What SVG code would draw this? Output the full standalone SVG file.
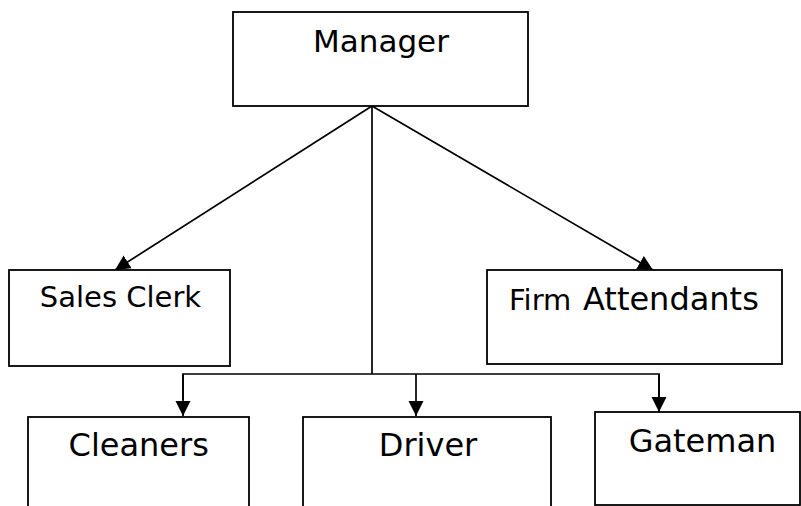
<svg xmlns="http://www.w3.org/2000/svg" width="801" height="506" viewBox="0 0 801 506">
<style>
.box{fill:#fff;stroke:#000;stroke-width:1.8}
.lbl{font-family:"DejaVu Sans",sans-serif;fill:#000;text-anchor:middle}
.ln{fill:none;stroke:#000;stroke-width:1.7}
</style>
<defs>
<marker id="arr" markerUnits="userSpaceOnUse" markerWidth="16" markerHeight="16" refX="15" refY="8" orient="auto">
<path d="M0,0.5 L15,8 L0,15.5 z" fill="#000"/>
</marker>
</defs>
<rect width="801" height="506" fill="#fff"/>
<g id="connectors">
<line class="ln" x1="372" y1="106" x2="115" y2="270" marker-end="url(#arr)"/>
<line class="ln" x1="372" y1="106" x2="653" y2="270" marker-end="url(#arr)"/>
<polyline class="ln" points="372,106 372,374"/>
<polyline class="ln" points="183,400 183,374 659,374 659,400"/>
<line class="ln" x1="183" y1="374" x2="183" y2="416" marker-end="url(#arr)"/>
<line class="ln" x1="416" y1="374" x2="416" y2="416" marker-end="url(#arr)"/>
<line class="ln" x1="659" y1="374" x2="659" y2="412" marker-end="url(#arr)"/>
</g>
<g id="manager">
<rect class="box" x="233" y="12" width="295" height="94"/>
<text class="lbl" x="381" y="52" font-size="31">Manager</text>
</g>
<g id="sales-clerk">
<rect class="box" x="9" y="270" width="221" height="96"/>
<text class="lbl" x="120.5" y="307" font-size="29">Sales Clerk</text>
</g>
<g id="firm-attendants">
<rect class="box" x="487" y="270" width="295" height="94"/>
<text class="lbl" y="310" style="text-anchor:start"><tspan x="509" font-size="29">Firm</tspan><tspan x="583" font-size="32">Attendants</tspan></text>
</g>
<g id="cleaners">
<rect class="box" x="28" y="417" width="221" height="110"/>
<text class="lbl" x="138.7" y="456" font-size="32">Cleaners</text>
</g>
<g id="driver">
<rect class="box" x="303" y="417" width="248" height="110"/>
<text class="lbl" x="428" y="456" font-size="32">Driver</text>
</g>
<g id="gateman">
<rect class="box" x="595" y="412" width="205" height="93"/>
<text class="lbl" x="702.5" y="452" font-size="32">Gateman</text>
</g>
</svg>
